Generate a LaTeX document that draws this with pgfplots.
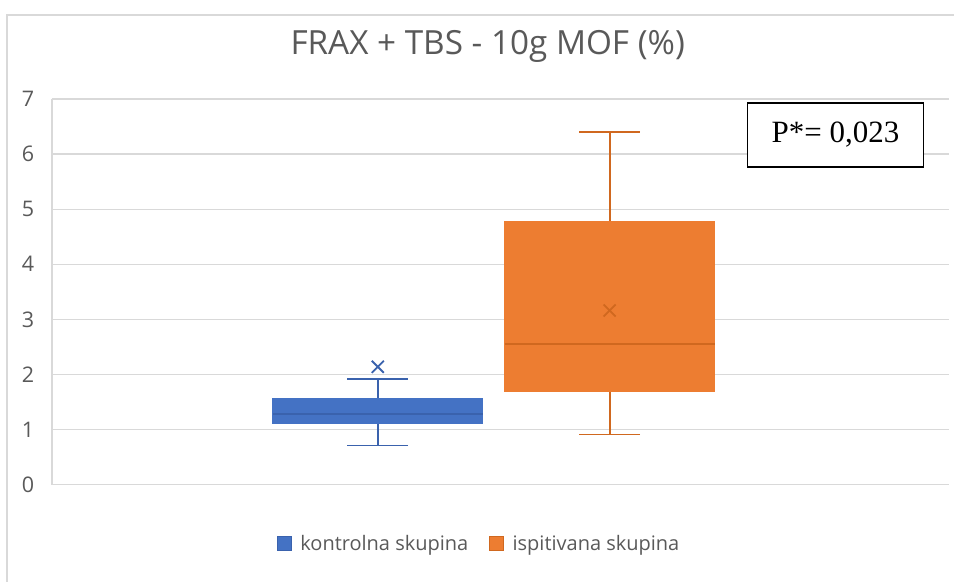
\documentclass[border=0pt]{standalone}
\usepackage{pgfplots}
\pgfplotsset{compat=1.18}
\usepgfplotslibrary{statistics}
\usepackage{fontspec}
\setmainfont{Open Sans}
\newfontfamily\timesfont{Liberation Serif}
\definecolor{myblue}{HTML}{4472C4}
\definecolor{myblueline}{HTML}{3A62AD}
\definecolor{myorange}{HTML}{ED7D31}
\definecolor{myorangeline}{HTML}{D0681F}
\definecolor{txt}{HTML}{595959}
\definecolor{gridc}{HTML}{D9D9D9}
\begin{document}
\begin{tikzpicture}[x=1pt,y=1pt]
\path (0,0) rectangle (955,582);
\draw[gridc, line width=1.2pt] (7,0) -- (7,567) -- (955,567);
\node[text=txt, font=\fontsize{33.3}{38}\selectfont] at (488,536) {FRAX + TBS - 10g MOF (\%)};
\begin{axis}[
  at={(52pt,97pt)}, anchor=south west,
  scale only axis, width=898pt, height=386pt,
  xmin=52, xmax=950, ymin=0, ymax=7,
  axis lines*=left,
  axis line style={draw=gridc, line width=1.2pt},
  ymajorgrids, grid style={gridc, line width=1.2pt},
  ytick={0,...,7}, xtick=\empty,
  major tick length=0pt,
  /pgf/number format/assume math mode=true,
  yticklabel style={font=\fontsize{21.5}{21.5}\selectfont, text=txt, anchor=center, xshift=-24pt},
  boxplot/draw direction=y,
  clip=false,
  legend style={at={(0.476,-0.153)}, anchor=center, draw=none, fill=none,
    font=\fontsize{20}{24}\selectfont, text=txt,
    /tikz/every even column/.append style={column sep=19pt}},
  legend columns=2,
  legend cell align=left,
]
\addplot[forget plot, fill=myblue, draw=myblue, line width=1.5pt,
  boxplot prepared={draw position=378, lower whisker=0.71, lower quartile=1.12,
    median=1.28, upper quartile=1.56, upper whisker=1.92,
    box extend=210, whisker extend=61},
  boxplot/every whisker/.style={draw=myblueline, line width=1.8pt},
  boxplot/every median/.style={draw=myblueline, line width=1.5pt},
] coordinates {};
\addplot[forget plot, fill=myorange, draw=myorange, line width=1.5pt,
  boxplot prepared={draw position=610, lower whisker=0.91, lower quartile=1.69,
    median=2.56, upper quartile=4.77, upper whisker=6.40,
    box extend=210, whisker extend=61},
  boxplot/every whisker/.style={draw=myorangeline, line width=1.8pt},
  boxplot/every median/.style={draw=myorangeline, line width=1.8pt},
] coordinates {};
\addplot[forget plot, only marks, mark=x, mark size=8.5pt, draw=myblueline, line width=1.8pt] coordinates {(378,2.14)};
\addplot[forget plot, only marks, mark=x, mark size=8.5pt, draw=myorangeline, line width=1.8pt] coordinates {(610,3.16)};
\addlegendimage{legend image code/.code={\draw[fill=myblue, draw=myblueline, line width=0.8pt] (0pt,-7pt) rectangle (14pt,7pt); \path[draw=none] (0pt,0pt) -- (21pt,0pt);}}
\addlegendentry{kontrolna skupina}
\addlegendimage{legend image code/.code={\draw[fill=myorange, draw=myorangeline, line width=0.8pt] (0pt,-7pt) rectangle (14pt,7pt); \path[draw=none] (0pt,0pt) -- (21pt,0pt);}}
\addlegendentry{ispitivana skupina}
\end{axis}
\node[draw=black, fill=white, line width=1.3pt, minimum width=176pt, minimum height=64pt, inner sep=0pt,
  font=\timesfont\fontsize{31}{36}\selectfont] at (836,447) {P*= 0,023};
\end{tikzpicture}
\end{document}
